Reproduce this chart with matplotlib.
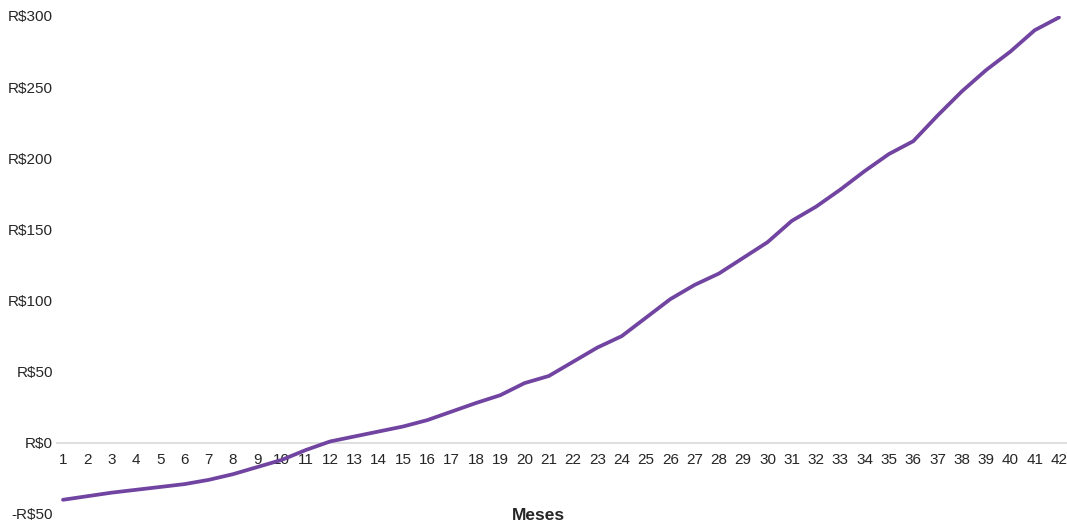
import numpy as np
import matplotlib
matplotlib.use("Agg")
import matplotlib.pyplot as plt

plt.rcParams['font.family'] = ['Liberation Sans', 'DejaVu Sans']

# months 1..42 and accumulated result (R$)
meses = list(range(1, 43))
saldo = [-40, -37.5, -35, -33, -31, -29, -26, -22, -17, -12,
         -5, 1, 4.5, 8, 11.5, 16, 22, 28, 33.5, 42,
         47, 57, 67, 75, 88, 101, 111, 119, 130, 141,
         156, 166, 178, 191, 203, 212, 230, 247, 262, 275,
         290, 299]
y_ticks = [-50, 0, 50, 100, 150, 200, 250, 300]
y_labels = ['-R$50', 'R$0', 'R$50', 'R$100', 'R$150', 'R$200', 'R$250', 'R$300']

fig = plt.figure(figsize=(10.67, 5.25), dpi=100)
ax = fig.add_axes([57 / 1067, 11 / 525, 1010 / 1067, 498 / 525])

ax.plot(meses, saldo, color='#7044A0', linewidth=2.7,
        solid_joinstyle='round', solid_capstyle='round', zorder=3)

ax.set_xlim(0.753, 42.33)
ax.set_ylim(-50, 300)

# zero line acts as the category axis
ax.spines['bottom'].set_position(('data', 0))
ax.spines['bottom'].set_color('#d9d9d9')
ax.spines['bottom'].set_linewidth(1.2)
for s in ['top', 'right', 'left']:
    ax.spines[s].set_visible(False)

ax.set_xticks(meses)
ax.set_xticklabels([str(m) for m in meses])
ax.set_yticks(y_ticks)
ax.set_yticklabels(y_labels)
ax.tick_params(axis='x', length=0, pad=7, labelsize=11, colors='#262626')
ax.tick_params(axis='y', length=0, pad=3, labelsize=11, colors='#262626')

fig.text(538 / 1067, 1 - 516 / 525, 'Meses', ha='center', va='center',
         fontsize=12.5, fontweight='bold', color='#262626')

fig.savefig('out.png', dpi=100)
